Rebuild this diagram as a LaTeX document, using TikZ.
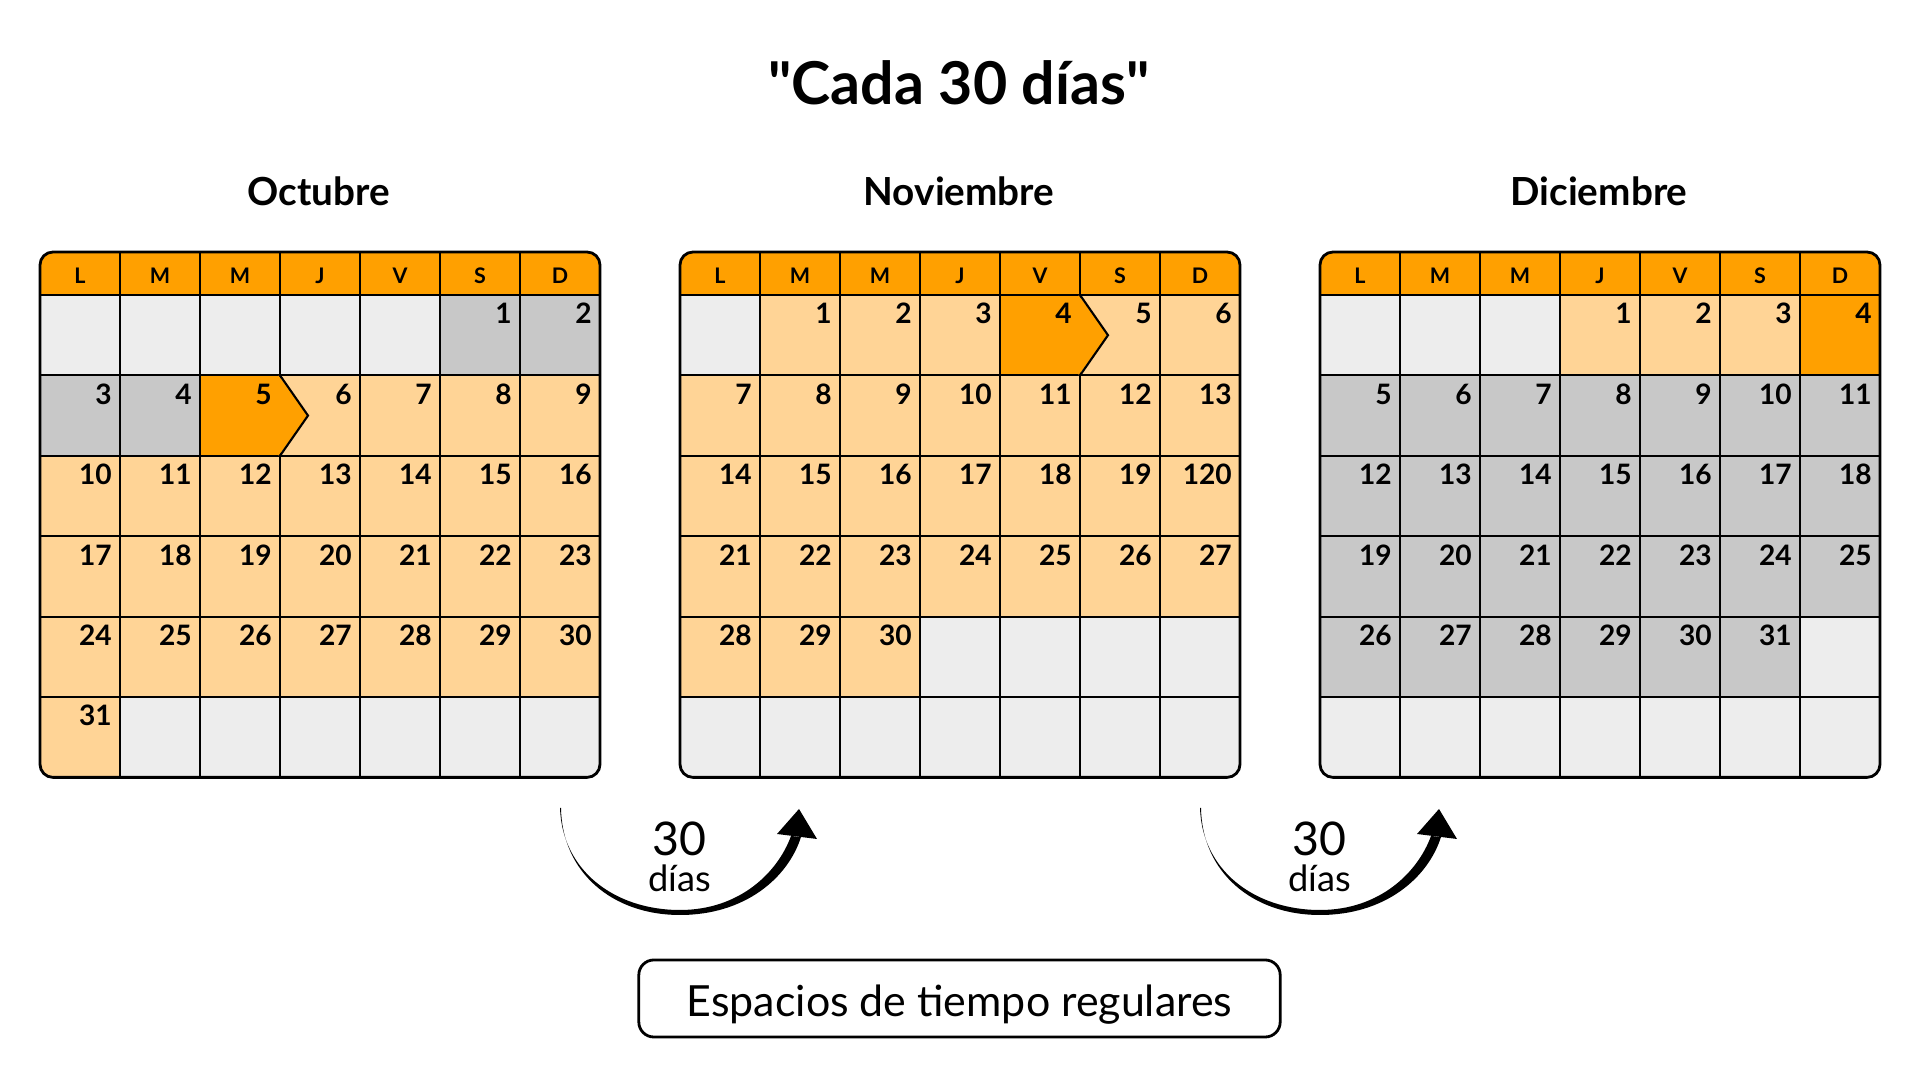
\documentclass[tikz,border=0pt]{standalone}
\usepackage{fontspec}
\setmainfont{Lato}[Ligatures=TeXOff]
\usepackage{xcolor}
\definecolor{calorange}{HTML}{FFA000}
\definecolor{calpeach}{HTML}{FFD496}
\definecolor{calgrey}{HTML}{C8C8C8}
\definecolor{calempty}{HTML}{EDEDED}
\usetikzlibrary{arrows.meta}

\tikzset{
  gridline/.style={line width=0.6pt,black},
  calborder/.style={line width=0.8pt,black,rounded corners=0.13cm},
  dayhead/.style={font=\bfseries\fontsize{6.1}{7}\selectfont,inner sep=0pt},
  daynum/.style={font=\bfseries\fontsize{8}{9}\selectfont,anchor=base east,inner sep=0pt},
  monthname/.style={font=\bfseries\fontsize{11}{13}\selectfont,anchor=base,inner sep=0pt},
  titletext/.style={font=\bfseries\fontsize{16.8}{20}\selectfont,anchor=base,inner sep=0pt},
  gapnum/.style={font=\fontsize{13.2}{15}\selectfont,anchor=base,inner sep=0pt},
  gapunit/.style={font=\fontsize{10.3}{12}\selectfont,anchor=base,inner sep=0pt},
  notebox/.style={draw,line width=0.8pt,rounded corners=0.15cm,minimum width=6.41cm,
    minimum height=0.77cm,text height=10pt,text depth=0pt,font=\fontsize{12.2}{15}\selectfont}
}

\newcommand{\calh}{525.4}
% printed label that differs from the day number
\expandafter\def\csname daylbl-nov-20\endcsname{120}

% #1 name, #2 first column, #3 days, #4 marked day, #5 colour before, #6 colour after
\newcommand{\calmonth}[6]{%
  \begin{scope}
    \clip[rounded corners=0.13cm] (0,0) rectangle (560,\calh);
    \fill[calorange] (0,0) rectangle (560,43);
    \fill[calempty] (0,43) rectangle (560,\calh);
    \foreach \d in {1,...,#3} {
      \pgfmathtruncatemacro{\dpos}{#2+\d-1}
      \pgfmathtruncatemacro{\dcol}{mod(\dpos,7)}
      \pgfmathtruncatemacro{\drow}{floor(\dpos/7)}
      \ifnum\d<#4\relax \def\dfill{#5}\else\ifnum\d=#4\relax \def\dfill{calorange}\else \def\dfill{#6}\fi\fi
      \fill[\dfill] (\dcol*80,43+\drow*80.4) rectangle ++(80,80.4);
    }
    \foreach \i in {1,...,6} \draw[gridline] (\i*80,0) -- (\i*80,\calh);
    \foreach \j in {0,...,5} \draw[gridline] (0,43+\j*80.4) -- (560,43+\j*80.4);
    % marked day
    \pgfmathtruncatemacro{\dpos}{#2+#4-1}
    \pgfmathtruncatemacro{\dcol}{mod(\dpos,7)}
    \pgfmathtruncatemacro{\drow}{floor(\dpos/7)}
    \ifnum\dcol<6\relax
      \fill[calorange] (\dcol*80+78.5,43+\drow*80.4) -- (\dcol*80+108,83.2+\drow*80.4)
        -- (\dcol*80+78.5,123.4+\drow*80.4) -- cycle;
      \draw[gridline] (\dcol*80+80,43+\drow*80.4) -- (\dcol*80+108,83.2+\drow*80.4)
        -- (\dcol*80+80,123.4+\drow*80.4);
    \fi
  \end{scope}
  \draw[calborder] (0,0) rectangle (560,\calh);
  \foreach \dayl [count=\i from 0] in {L,M,M,J,V,S,D}
    \node[dayhead] (#1-h\i) at (\i*80+40,23.5) {\dayl};
  \foreach \d in {1,...,#3} {
    \pgfmathtruncatemacro{\dpos}{#2+\d-1}
    \pgfmathtruncatemacro{\dcol}{mod(\dpos,7)}
    \pgfmathtruncatemacro{\drow}{floor(\dpos/7)}
    \ifcsname daylbl-#1-\d\endcsname \def\dlbl{\csname daylbl-#1-\d\endcsname}\else \let\dlbl\d \fi
    \node[daynum] (#1-\d) at (\dcol*80+72.5,72+\drow*80.4) {\dlbl};
  }
}

\begin{document}
\begin{tikzpicture}[x=0.01cm,y=-0.01cm]
  \useasboundingbox (0,0) rectangle (1920,1080);

  \node[titletext] (title) at (959,105) {"Cada 30 días"};

  % Months
  \node[monthname] (oct-name) at (319,205.5) {Octubre};
  \node[monthname] (nov-name) at (959,205.5) {Noviembre};
  \node[monthname] (dec-name) at (1599,205.5) {Diciembre};

  \begin{scope}[shift={(40,252)}]
    \calmonth{oct}{5}{31}{5}{calgrey}{calpeach}
  \end{scope}
  \begin{scope}[shift={(680,252)}]
    \calmonth{nov}{1}{30}{4}{calpeach}{calpeach}
  \end{scope}
  \begin{scope}[shift={(1320,252)}]
    \calmonth{dec}{3}{31}{4}{calpeach}{calgrey}
  \end{scope}

  % 30 day jumps
  \foreach \ax [count=\k] in {0,640} {
    \begin{scope}[shift={(\ax,0)}]
      \fill (561,808) .. controls (562,872) and (612,915) .. (680,915)
        .. controls (745,915) and (788,878) .. (801,837) -- (791,836)
        .. controls (778,872) and (740,910) .. (680,910)
        .. controls (614,910) and (562,870) .. (560,808) -- cycle;
      \fill (777,834) -- (799,809) -- (817,839) -- cycle;
      \node[gapnum] (jump\k-num) at (679,856) {30};
      \node[gapunit] (jump\k-unit) at (680,892) {días};
    \end{scope}
  }

  \node[notebox] (note) at (959.5,998.5) {Espacios de tiempo regulares};
\end{tikzpicture}
\end{document}
